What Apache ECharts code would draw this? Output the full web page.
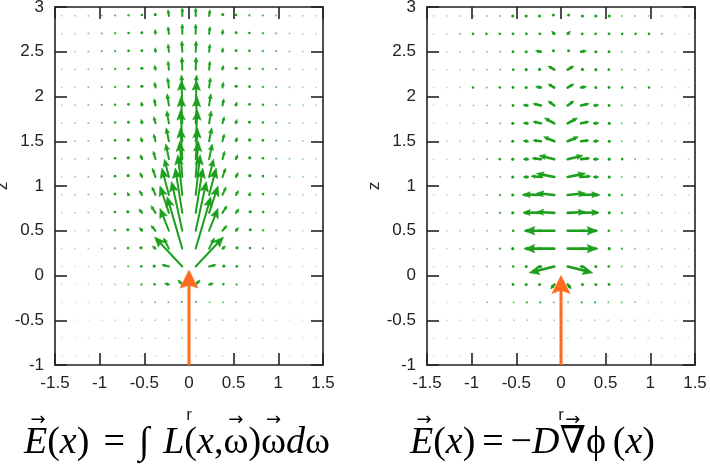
<!DOCTYPE html>
<html>
<head>
<meta charset="utf-8">
<script src="https://cdn.jsdelivr.net/npm/echarts@6/dist/echarts.min.js"></script>
<style>
html,body{margin:0;padding:0;background:#fff;}
#chart{width:710px;height:474px;}
</style>
</head>
<body>
<div id="chart"></div>
<script>
// ---------------- data ----------------
// grid of sample points (cell centres)
const rCols = [-1.425,-1.275,-1.125,-0.975,-0.825,-0.675,-0.525,-0.375,-0.225,-0.075,
               0.075,0.225,0.375,0.525,0.675,0.825,0.975,1.125,1.275,1.425];
const zRows = [2.9,2.7,2.5,2.3,2.1,1.9,1.7,1.5,1.3,1.1,0.9,0.7,0.5,0.3,0.1,-0.1,-0.3,-0.5,-0.7,-0.9];
const VEC_UNIT = 0.01; // vector components below are in hundredths of an axis unit

const xTickValues = [-1.5,-1,-0.5,0,0.5,1,1.5];
const xTickLabels = ['-1.5','-1','-0.5','0','0.5','1','1.5'];
const yTickValues = [-1,-0.5,0,0.5,1,1.5,2,2.5,3];
const yTickLabels = ['-1','-0.5','0','0.5','1','1.5','2','2.5','3'];

// left panel: E(x) = ∫ L ω dω   (radial component, rows = zRows, cols = rCols)
const leftDR = [
 [0,0,-0.2,-0.2,-0.3,-0.3,-0.5,-0.5,-1,0, 0,1,0.5,0.5,0.3,0.3,0.2,0.2,0,0],
 [0,0,-0.2,-0.2,-0.3,-0.3,-0.5,-0.5,-1,0, 0,1,0.5,0.5,0.3,0.3,0.2,0.2,0,0],
 [0,-0.1,-0.2,-0.2,-0.3,-0.3,-0.5,-0.5,-1,-0.5, 0.5,1,0.5,0.5,0.3,0.3,0.2,0.2,0.1,0],
 [0,-0.1,-0.2,-0.2,-0.3,-0.5,-0.5,-1,-1,-0.5, 0.5,1,1,0.5,0.5,0.3,0.2,0.2,0.1,0],
 [0,-0.1,-0.2,-0.2,-0.3,-0.5,-0.5,-1,-1.5,-1, 1,1.5,1,0.5,0.5,0.3,0.2,0.2,0.1,0],
 [0,-0.1,-0.2,-0.3,-0.4,-0.5,-1,-1.5,-2,-1, 1,2,1.5,1,0.5,0.4,0.3,0.2,0.1,0],
 [0,-0.1,-0.2,-0.3,-0.4,-0.5,-1,-2,-2.5,-1.5, 1.5,2.5,2,1,0.5,0.4,0.3,0.2,0.1,0],
 [0,-0.1,-0.2,-0.3,-0.5,-0.8,-1.5,-2,-3,-2, 2,3,2,1.5,0.8,0.5,0.3,0.2,0.1,0],
 [0,-0.1,-0.2,-0.3,-0.5,-1,-2,-2.5,-3.5,-2, 2,3.5,2.5,2,1,0.5,0.3,0.2,0.1,0],
 [0,-0.1,-0.2,-0.4,-0.6,-1.2,-2.5,-3.5,-5,-3, 3,5,3.5,2.5,1.2,0.6,0.4,0.2,0.1,0],
 [0,-0.1,-0.2,-0.4,-0.8,-1.5,-3,-4,-8,-5, 5,8,4,3,1.5,0.8,0.4,0.2,0.1,0],
 [0,-0.1,-0.3,-0.5,-1,-2,-3.5,-5,-10,-8, 8,10,5,3.5,2,1,0.5,0.3,0.1,0],
 [0,-0.1,-0.3,-0.5,-1,-2,-3,-5,-10,-12, 12,10,5,3,2,1,0.5,0.3,0.1,0],
 [0,-0.1,-0.3,-0.5,-1,-1.5,-2.5,-3.5,-6,-17, 17,6,3.5,2.5,1.5,1,0.5,0.3,0.1,0],
 [0,-0.1,-0.3,-0.5,-0.8,-1.2,-2,-3,-8,-31, 31,8,3,2,1.2,0.8,0.5,0.3,0.1,0],
 [0,-0.1,-0.2,-0.4,-0.6,-1,-1.5,-2,-5,-5, 5,5,2,1.5,1,0.6,0.4,0.2,0.1,0],
 [0,-0.1,-0.2,-0.3,-0.4,-0.6,-0.8,-1,-1,-1, 1,1,1,0.8,0.6,0.4,0.3,0.2,0.1,0],
 [0,-0.1,-0.1,-0.2,-0.3,-0.4,-0.5,-0.5,-0.5,-0.3, 0.3,0.5,0.5,0.5,0.4,0.3,0.2,0.1,0.1,0],
 [0,0,-0.1,-0.1,-0.2,-0.3,-0.3,-0.3,-0.3,-0.2, 0.2,0.3,0.3,0.3,0.3,0.2,0.1,0.1,0,0],
 [0,0,-0.1,-0.1,-0.1,-0.2,-0.2,-0.2,-0.2,-0.1, 0.1,0.2,0.2,0.2,0.2,0.1,0.1,0.1,0,0]
];
// left panel: axial component
const leftDZ = [
 [0.4,0.5,0.6,1,1.2,1.5,2,3,7,9, 9,7,3,2,1.5,1.2,1,0.6,0.5,0.4],
 [0.4,0.5,0.7,1,1.5,2,2.5,5,8,11, 11,8,5,2.5,2,1.5,1,0.7,0.5,0.4],
 [0.4,0.5,0.8,1.2,1.5,2,2.5,4.5,8.5,12, 12,8.5,4.5,2.5,2,1.5,1.2,0.8,0.5,0.4],
 [0.4,0.5,0.8,1.2,1.5,2,3,5,9.5,14, 14,9.5,5,3,2,1.5,1.2,0.8,0.5,0.4],
 [0.4,0.5,0.8,1.2,1.5,2,3,6,11,14, 14,11,6,3,2,1.5,1.2,0.8,0.5,0.4],
 [0.4,0.6,0.8,1.3,1.8,2.5,4,7.5,13,28, 28,13,7.5,4,2.5,1.8,1.3,0.8,0.6,0.4],
 [0.4,0.6,0.8,1.3,1.8,2.5,4.5,7.5,14,30, 30,14,7.5,4.5,2.5,1.8,1.3,0.8,0.6,0.4],
 [0.4,0.6,0.8,1.3,2,3,4.5,8,15,35, 35,15,8,4.5,3,2,1.3,0.8,0.6,0.4],
 [0.4,0.6,0.8,1.3,2,3,5,9,17,35, 35,17,9,5,3,2,1.3,0.8,0.6,0.4],
 [0.4,0.6,0.8,1.3,2,3,5,10,20,40, 40,20,10,5,3,2,1.3,0.8,0.6,0.4],
 [0.4,0.5,0.8,1.2,2,3,5,9,30,45, 45,30,9,5,3,2,1.2,0.8,0.5,0.4],
 [0.4,0.5,0.7,1,1.8,2.5,4.5,8,30,50, 50,30,8,4.5,2.5,1.8,1,0.7,0.5,0.4],
 [0.3,0.4,0.6,0.8,1.2,2,3.5,6,25,55, 55,25,6,3.5,2,1.2,0.8,0.6,0.4,0.3],
 [0.3,0.3,0.4,0.5,0.8,1.2,2,3,12,58, 58,12,3,2,1.2,0.8,0.5,0.4,0.3,0.3],
 [0.2,0.1,0.1,0.2,0.2,0.3,0.5,1,2,33, 33,2,1,0.5,0.3,0.2,0.2,0.1,0.1,0.2],
 [0.2,0,0,0,0,0,0,0.3,1,5, 5,1,0.3,0,0,0,0,0,0,0.2],
 [0.1,0,0,0,0,0,0,0,0.3,1, 1,0.3,0,0,0,0,0,0,0,0.1],
 [0.1,0,0,0,0,0,0,0,0.2,0.8, 0.8,0.2,0,0,0,0,0,0,0,0.1],
 [0.1,0.1,0,0,0,0,0,0,0.1,0.5, 0.5,0.1,0,0,0,0,0,0,0.1,0.1],
 [0.1,0.1,0,0,0,0,0,0,0,0.3, 0.3,0,0,0,0,0,0,0,0.1,0.1]
];

// right panel: E(x) = -D ∇φ   (radial component)
const rightDR = [
 [-0.3,-0.3,-0.5,-0.8,-0.8,-1,-3,-3,-3,-2, 2,3,3,3,1,0.8,0.8,0.5,0.3,0.3],
 [-0.3,-0.5,-1,-2,-2,-2,-2.5,-2.5,-2.5,-3, 3,2.5,2.5,2.5,2,2,2,1,0.5,0.3],
 [-0.3,-0.3,-0.5,-0.8,-0.8,-1,-2.5,-3,-6,-2, 2,6,3,2.5,1,0.8,0.8,0.5,0.3,0.3],
 [-0.3,-0.3,-0.5,-0.8,-0.8,-1,-2,-3,-3,-7, 7,3,3,2,1,0.8,0.8,0.5,0.3,0.3],
 [-0.3,-0.3,-0.5,-2,-1,-2,-2.5,-3,-6,-7, 7,6,3,2.5,2,1,2,0.5,0.3,0.3],
 [-0.3,-0.3,-0.5,-0.6,-0.8,-1,-2.5,-5,-9,-7, 7,9,5,2.5,1,0.8,0.6,0.5,0.3,0.3],
 [-0.3,-0.3,-0.5,-0.6,-0.8,-1,-3,-5,-9,-11, 11,9,5,3,1,0.8,0.6,0.5,0.3,0.3],
 [-0.3,-0.3,-0.5,-0.6,-0.8,-1,-3,-5,-9,-12, 12,9,5,3,1,0.8,0.6,0.5,0.3,0.3],
 [-0.3,-0.3,-0.5,-0.6,-1,-2,-3,-5,-10,-17, 17,10,5,3,2,1,0.6,0.5,0.3,0.3],
 [-0.3,-0.3,-0.5,-0.6,-0.8,-1,-3,-5,-11,-20, 20,11,5,3,1,0.8,0.6,0.5,0.3,0.3],
 [-0.3,-0.3,-0.5,-0.6,-0.8,-1.5,-3,-6,-20,-20, 20,20,6,3,1.5,0.8,0.6,0.5,0.3,0.3],
 [-0.3,-0.3,-0.5,-0.6,-0.8,-1.5,-3,-5,-20,-20, 20,20,5,3,1.5,0.8,0.6,0.5,0.3,0.3],
 [-0.3,-0.3,-0.5,-0.6,-0.8,-1,-2,-4,-3,-33, 33,3,4,2,1,0.8,0.6,0.5,0.3,0.3],
 [-0.3,-0.3,-0.5,-0.6,-0.8,-1.5,-3,-4,-3,-33, 33,3,4,3,1.5,0.8,0.6,0.5,0.3,0.3],
 [-0.3,-0.3,-0.5,-0.6,-0.8,-1,-2,-3,-5,-28, 28,5,3,2,1,0.8,0.6,0.5,0.3,0.3],
 [-0.2,-0.3,-0.3,-0.5,-0.5,-1,-2.5,-3,-3,-4, 4,3,3,2.5,1,0.5,0.5,0.3,0.3,0.2],
 [-0.2,-0.2,-0.3,-0.4,-0.8,-1,-1,-1.5,-1.5,-1, 1,1.5,1.5,1,1,0.8,0.4,0.3,0.2,0.2],
 [-0.2,-0.2,-0.2,-0.3,-0.3,-0.4,-0.5,-0.5,-0.5,-0.5, 0.5,0.5,0.5,0.5,0.4,0.3,0.3,0.2,0.2,0.2],
 [-0.1,-0.1,-0.2,-0.2,-0.2,-0.3,-0.3,-0.3,-0.3,-0.3, 0.3,0.3,0.3,0.3,0.3,0.2,0.2,0.2,0.1,0.1],
 [-0.1,-0.1,-0.1,-0.1,-0.1,-0.2,-0.2,-0.2,-0.2,-0.2, 0.2,0.2,0.2,0.2,0.2,0.1,0.1,0.1,0.1,0.1]
];
// right panel: axial component
const rightDZ = [
 [0,0,0,0,0,0,0,0,0,2, 2,0,0,0,0,0,0,0,0,0],
 [0,0,0,0,0,0,0,0,0,3, 3,0,0,0,0,0,0,0,0,0],
 [0,0,0,0,0,0,0,0,1,2, 2,1,0,0,0,0,0,0,0,0],
 [0,0,0,0,0,0,0,0,0.5,4, 4,0.5,0,0,0,0,0,0,0,0],
 [0,0,0,0,0,0,0,0,1,4, 4,1,0,0,0,0,0,0,0,0],
 [0,0,0,0,0,0,0,0.5,2,5, 5,2,0.5,0,0,0,0,0,0,0],
 [0,0,0,0,0,0,0,0.5,2,6, 6,2,0.5,0,0,0,0,0,0,0],
 [0,0,0,0,0,0,0,0.5,1,5, 5,1,0.5,0,0,0,0,0,0,0],
 [0,0,0,0,0,0,0,0,1,4, 4,1,0,0,0,0,0,0,0,0],
 [0,0,0,0,0,0,0,0,1,4, 4,1,0,0,0,0,0,0,0,0],
 [0,0,0,0,0,0,0,0,0.5,2, 2,0.5,0,0,0,0,0,0,0,0],
 [0,0,0,0,0,0,0,0,0.5,1, 1,0.5,0,0,0,0,0,0,0,0],
 [0,0,0,0,0,0,0,0,0,0, 0,0,0,0,0,0,0,0,0,0],
 [0,0,0,0,0,0,0,0,0,0, 0,0,0,0,0,0,0,0,0,0],
 [0,0,0,0,0,0,0,0,-1,-7, -7,-1,0,0,0,0,0,0,0,0],
 [0,0,0,0,0,0,0,0,0,-5, -5,0,0,0,0,0,0,0,0,0],
 [0,0,0,0,0,0,0,0,0,0, 0,0,0,0,0,0,0,0,0,0],
 [0,0,0,0,0,0,0,0,0,0, 0,0,0,0,0,0,0,0,0,0],
 [0,0,0,0,0,0,0,0,0,0, 0,0,0,0,0,0,0,0,0,0],
 [0,0,0,0,0,0,0,0,0,0, 0,0,0,0,0,0,0,0,0,0]
];

// incoming beam (tail r, tail z, dr, dz) for each panel
const leftBeam = [[0, -1, 0, 1.06]];
const rightBeam = [[0, -1, 0, 1.0]];

// formulas under the panels: [text, italic?, vector arrow?]; ' ' entries are stretchable spaces
const leftFormula = [['E',1,1],['(',0,0],['x',1,0],[')',0,0],[' ',0,0],['=',0,0],[' ',0,0],['\u222B',0,0],[' ',0,0],['L',1,0],['(',0,0],['x',1,0],[',',0,0],['\u03C9',0,1],[')',0,0],['\u03C9',0,1],['d',1,0],['\u03C9',0,0]];
const rightFormula = [['E',1,1],['(',0,0],['x',1,0],[')',0,0],[' ',0,0],['=',0,0],[' ',0,0],['\u2212',0,0],['D',1,0],['\u2207',0,1],['\u03D5',0,0],[' ',0,0],['(',0,0],['x',1,0],[')',0,0]];

// ---------------- helpers ----------------
const GREEN = '#1ca01c';
const ORANGE = '#ff6a1f';
const AXIS_COLOR = '#222';
const LABEL_FONT = 'Liberation Sans';

function buildVectors(DR, DZ) {
  const out = [];
  for (let j = 0; j < zRows.length; j++) {
    for (let i = 0; i < rCols.length; i++) {
      out.push([rCols[i], zRows[j], DR[j][i] * VEC_UNIT, DZ[j][i] * VEC_UNIT]);
    }
  }
  return out;
}

function arrowShape(p0, p1, opt) {
  const vx = p1[0] - p0[0], vy = p1[1] - p0[1];
  const L = Math.hypot(vx, vy);
  const ux = vx / L, uy = vy / L, nx = -uy, ny = ux;
  const hl = Math.min(opt.maxHead, Math.max(opt.minHead, opt.headFrac * L));
  const hw = hl * opt.headWidth;
  const bx = p1[0] - ux * hl, by = p1[1] - uy * hl;
  const notch = hl * 0.18;
  return [
    { type: 'line', shape: { x1: p0[0], y1: p0[1], x2: bx + ux * notch, y2: by + uy * notch },
      style: { stroke: opt.color, lineWidth: opt.lw, lineCap: 'round' } },
    { type: 'polygon', shape: { points: [[p1[0], p1[1]], [bx + nx * hw, by + ny * hw],
        [bx + ux * notch, by + uy * notch], [bx - nx * hw, by - ny * hw]] },
      style: { fill: opt.color, stroke: opt.color, lineWidth: 0.6, lineJoin: 'round' } }
  ];
}

function makeVectorRenderer(lw) {
  return function (params, api) {
    const r = api.value(0), z = api.value(1), dr = api.value(2), dz = api.value(3);
    const p0 = api.coord([r, z]);
    const p1 = api.coord([r + dr, z + dz]);
    const L = Math.hypot(p1[0] - p0[0], p1[1] - p0[1]);
    if (L < 3) {
      return {
        type: 'circle',
        shape: { cx: (p0[0] + p1[0]) / 2, cy: (p0[1] + p1[1]) / 2, r: 0.8 + 0.28 * L },
        style: { fill: GREEN, opacity: Math.min(1, 0.2 + 0.45 * L) }
      };
    }
    return { type: 'group', children: arrowShape(p0, p1,
      { color: GREEN, lw: lw, maxHead: 10, minHead: 3.5, headFrac: 0.4, headWidth: 0.42 }) };
  };
}

function renderBeam(params, api) {
  const p0 = api.coord([api.value(0), api.value(1)]);
  const p1 = api.coord([api.value(0) + api.value(2), api.value(1) + api.value(3)]);
  return { type: 'group', children: arrowShape(p0, p1,
    { color: ORANGE, lw: 3, maxHead: 18, minHead: 18, headFrac: 1, headWidth: 0.5 }) };
}

function tickFmt(values, labels) {
  return function (v) {
    const k = values.findIndex(t => Math.abs(t - v) < 1e-9);
    return k >= 0 ? labels[k] : '';
  };
}

const lineStyle = { color: AXIS_COLOR, width: 1.6 };

function xAxisPair(gi) {
  const base = {
    gridIndex: gi, type: 'value', min: -1.5, max: 1.5, interval: 0.5,
    splitLine: { show: false },
    axisLine: { show: true, onZero: false, lineStyle: lineStyle },
    axisTick: { show: true, inside: true, length: 12, lineStyle: lineStyle }
  };
  return [
    Object.assign({}, base, {
      position: 'bottom', name: 'r', nameLocation: 'middle', nameGap: 42,
      nameTextStyle: { fontFamily: LABEL_FONT, fontSize: 17, color: AXIS_COLOR },
      axisLabel: { show: true, margin: 10, fontFamily: LABEL_FONT, fontSize: 17, color: AXIS_COLOR,
        showMinLabel: true, showMaxLabel: true, hideOverlap: false,
        formatter: tickFmt(xTickValues, xTickLabels) }
    }),
    Object.assign({}, base, { position: 'top', axisLabel: { show: false } })
  ];
}
function yAxisPair(gi) {
  const base = {
    gridIndex: gi, type: 'value', min: -1, max: 3, interval: 0.5,
    splitLine: { show: false },
    axisLine: { show: true, onZero: false, lineStyle: lineStyle },
    axisTick: { show: true, inside: true, length: 12, lineStyle: lineStyle }
  };
  return [
    Object.assign({}, base, {
      position: 'left', name: 'z', nameLocation: 'middle', nameGap: 41, nameRotate: 90,
      nameTextStyle: { fontFamily: LABEL_FONT, fontSize: 17, color: AXIS_COLOR },
      axisLabel: { show: true, margin: 11, fontFamily: LABEL_FONT, fontSize: 17, color: AXIS_COLOR,
        showMinLabel: true, showMaxLabel: true, hideOverlap: false,
        formatter: tickFmt(yTickValues, yTickLabels) }
    }),
    Object.assign({}, base, { position: 'right', axisLabel: { show: false } })
  ];
}

// formula layout via canvas text measurement; blank entries stretch to fill the span
function formulaGraphics(segs, x0, x1, yMid, size) {
  const ctx = document.createElement('canvas').getContext('2d');
  const fam = '"Liberation Serif", "DejaVu Serif", serif';
  const widths = segs.map(function (s) {
    if (s[0] === ' ') return 0;
    ctx.font = (s[1] ? 'italic ' : '') + size + 'px ' + fam;
    return ctx.measureText(s[0]).width;
  });
  const natural = widths.reduce(function (a, b) { return a + b; }, 0);
  const nSpace = segs.filter(function (s) { return s[0] === ' '; }).length;
  const space = Math.min(14, Math.max(5, (x1 - x0 - natural) / nSpace));
  const els = [];
  let x = x0;
  segs.forEach(function (s, k) {
    const t = s[0], it = s[1], vec = s[2], w = widths[k];
    if (t === ' ') { x += space; return; }
    els.push({ type: 'text', x: x, y: yMid, silent: true,
      style: { text: t, fontSize: size, fontFamily: fam, fontStyle: it ? 'italic' : 'normal',
        fill: '#000', align: 'left', verticalAlign: 'middle' } });
    if (vec) {
      els.push({ type: 'text', x: x + w / 2 + (it ? 2.5 : 0), y: yMid - size * 0.6, silent: true,
        style: { text: '\u2192', fontSize: Math.round(size * 0.48), fontFamily: '"DejaVu Sans", sans-serif',
          fill: '#000', align: 'center', verticalAlign: 'middle' } });
    }
    x += w;
  });
  return els;
}

const xAxes = xAxisPair(0).concat(xAxisPair(1));
const yAxes = yAxisPair(0).concat(yAxisPair(1));

const option = {
  animation: false,
  backgroundColor: '#ffffff',
  grid: [
    { left: 55, top: 7, width: 268, height: 358, containLabel: false, outerBoundsMode: 'none' },
    { left: 427, top: 7, width: 268, height: 358, containLabel: false, outerBoundsMode: 'none' }
  ],
  xAxis: xAxes,
  yAxis: yAxes,
  series: [
    { type: 'custom', xAxisIndex: 0, yAxisIndex: 0, clip: true, data: buildVectors(leftDR, leftDZ), renderItem: makeVectorRenderer(2), z: 2 },
    { type: 'custom', xAxisIndex: 0, yAxisIndex: 0, clip: true, data: leftBeam, renderItem: renderBeam, z: 3 },
    { type: 'custom', xAxisIndex: 2, yAxisIndex: 2, clip: true, data: buildVectors(rightDR, rightDZ), renderItem: makeVectorRenderer(2.6), z: 2 },
    { type: 'custom', xAxisIndex: 2, yAxisIndex: 2, clip: true, data: rightBeam, renderItem: renderBeam, z: 3 }
  ],
  graphic: formulaGraphics(leftFormula, 24, 336, 443, 38).concat(formulaGraphics(rightFormula, 410, 655, 443, 38))
};

const chart = echarts.init(document.getElementById('chart'), null, { renderer: 'canvas' });
chart.setOption(option);
</script>
</body>
</html>
